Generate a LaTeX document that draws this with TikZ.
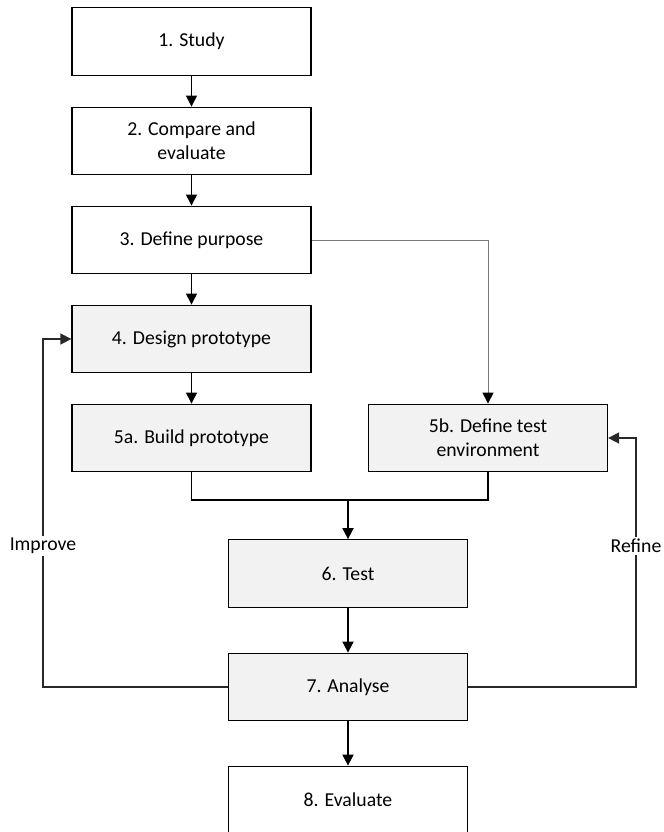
\documentclass[tikz,border=0pt]{standalone}
\usepackage{fontspec}
\setmainfont{Carlito}
\usetikzlibrary{arrows.meta}
\definecolor{boxgray}{RGB}{242,242,242}
\definecolor{linegray}{RGB}{120,120,120}
\definecolor{loopdark}{RGB}{40,40,40}
\begin{document}
\begin{tikzpicture}[x=1bp,y=-1bp,
  font=\fontsize{19.8}{24}\selectfont,
  stepbox/.style={draw=black,line width=1.3bp,minimum width=239bp,minimum height=67.5bp,
    inner sep=0pt,align=center,fill=white},
  shaded/.style={stepbox,fill=boxgray},
  tip/.style={-{Triangle[length=11bp,width=11bp]}},
  flow/.style={tip,line width=1bp,draw=black},
  mainflow/.style={tip,line width=1.8bp,draw=black},
  loopflow/.style={tip,line width=1.6bp,draw=loopdark},
  looplabel/.style={fill=white,inner sep=2bp}]
\useasboundingbox (0,0) rectangle (664,832);

% process steps
\node[stepbox] (s1) at (191.5,41.5) {1. Study};
\node[stepbox] (s2) at (191.5,141) {2. Compare and\\evaluate};
\node[stepbox] (s3) at (191.5,240) {3. Define purpose};
\node[shaded] (s4) at (191.5,339) {4. Design prototype};
\node[shaded] (s5a) at (191.5,438) {5a. Build prototype};
\node[shaded] (s5b) at (488,438) {5b. Define test\\environment};
\node[shaded] (s6) at (348,573.5) {6. Test};
\node[shaded] (s7) at (348,687) {7. Analyse};
\node[stepbox] (s8) at (348,800) {8. Evaluate};

% forward flow
\draw[flow] (s1) -- (s2);
\draw[flow] (s2) -- (s3);
\draw[flow] (s3) -- (s4);
\draw[flow] (s4) -- (s5a);
\draw[line width=1bp,draw=linegray,-{Triangle[length=11bp,width=11bp,color=black]}]
  (s3.east) -| (s5b.north);

% merge of both branches into the test step
\coordinate (merge) at (348,500);
\draw[line width=1.3bp] (s5a.south) |- (merge) -| (s5b.south);
\draw[mainflow] (merge) -- (s6.north);
\draw[mainflow] (s6) -- (s7);
\draw[mainflow] (s7) -- (s8);

% feedback loops
\coordinate (improvex) at (43,0);
\coordinate (refinex) at (636,0);
\draw[loopflow] (s7.west) -| (improvex |- s4.west) -- (s4.west);
\draw[loopflow] (s7.east) -| (refinex |- s5b.east) -- (s5b.east);
\node[looplabel] (improve) at (43,546) {Improve};
\node[looplabel] (refine) at (636,546) {Refine};
\end{tikzpicture}
\end{document}
